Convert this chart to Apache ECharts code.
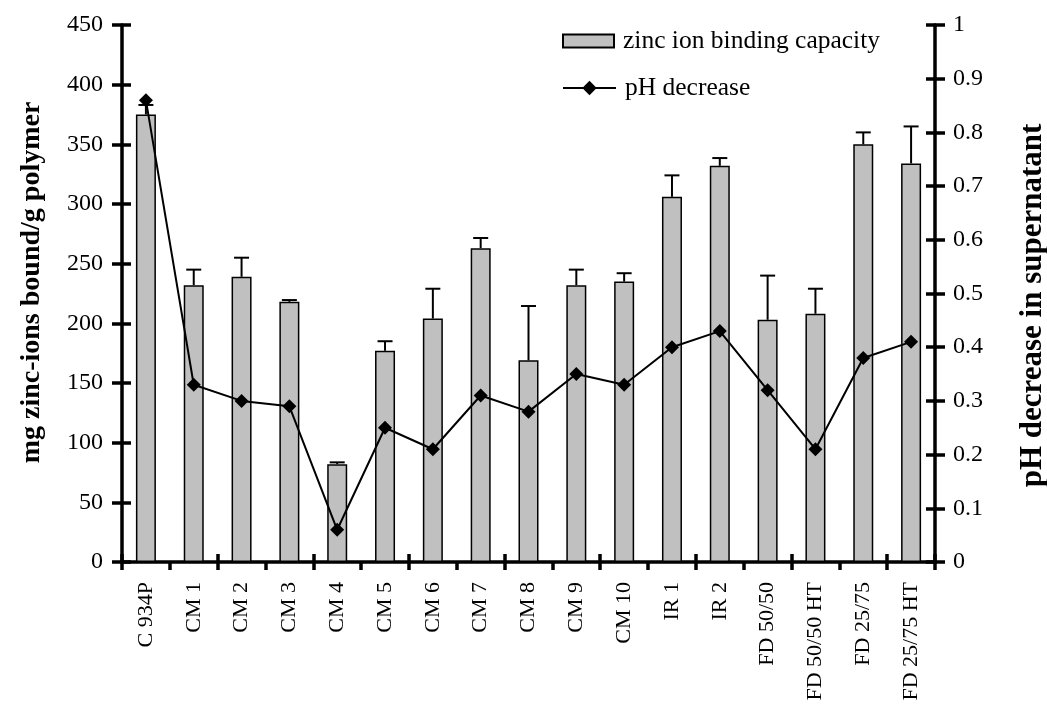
<!DOCTYPE html>
<html>
<head>
<meta charset="utf-8">
<script src="https://cdn.jsdelivr.net/npm/echarts@6/dist/echarts.min.js"></script>
<style>
  html, body { margin: 0; padding: 0; background: #fff; }
  #chart { width: 1047px; height: 708px; }
</style>
</head>
<body>
<div id="chart"></div>
<script>
// Samples along the x axis
const categories = ['C 934P', 'CM 1', 'CM 2', 'CM 3', 'CM 4', 'CM 5', 'CM 6', 'CM 7', 'CM 8', 'CM 9',
  'CM 10', 'IR 1', 'IR 2', 'FD 50/50', 'FD 50/50 HT', 'FD 25/75', 'FD 25/75 HT'];

// Zinc ion binding capacity (mg zinc-ions bound / g polymer)
const bindingCapacity = [375, 232, 239, 218, 82, 177, 204, 263, 169, 232, 235, 306, 332, 203, 208, 350, 334];

// Upper end of the error bar for each sample
const bindingUpper = [383, 245, 255, 219.5, 83.5, 185, 229, 271.5, 214.5, 245, 242, 324, 338.5, 240, 229, 360, 365];

// pH decrease in supernatant
const phDecrease = [0.86, 0.33, 0.30, 0.29, 0.06, 0.25, 0.21, 0.31, 0.28, 0.35, 0.33, 0.40, 0.43, 0.32, 0.21, 0.38, 0.41];

const FONT = '"Liberation Serif", "Times New Roman", serif';
const AX = 3.5;

const errorData = bindingCapacity.map((v, i) => [i, v, bindingUpper[i]]);

const chart = echarts.init(document.getElementById('chart'));

const axisLine = { show: true, lineStyle: { color: '#000', width: AX } };
const legendText = { fontFamily: FONT, fontSize: 25.5, color: '#000', padding: [0, 0, 0, 4] };

chart.setOption({
  backgroundColor: '#fff',
  animation: false,
  grid: { left: 122, right: 112, top: 25, bottom: 146, outerBoundsMode: 'none', containLabel: false },
  legend: [
    {
      left: 557,
      top: 23,
      itemWidth: 51,
      itemHeight: 13,
      data: [{ name: 'zinc ion binding capacity', icon: 'rect' }],
      textStyle: legendText
    },
    {
      left: 557,
      top: 70,
      itemWidth: 53,
      itemHeight: 18,
      data: ['pH decrease'],
      textStyle: legendText
    }
  ],
  xAxis: [
    {
      type: 'category',
      data: categories,
      position: 'bottom',
      boundaryGap: true,
      axisLine: axisLine,
      axisTick: { show: true, length: 8, lineStyle: { color: '#000', width: AX } },
      axisLabel: {
        rotate: 90, margin: 20, interval: 0,
        fontFamily: FONT, fontSize: 22, color: '#000'
      },
      splitLine: { show: false }
    },
    {
      // inner half of the crossing ticks
      type: 'category',
      data: categories,
      position: 'bottom',
      boundaryGap: true,
      axisLine: { show: false },
      axisTick: { show: true, inside: true, length: 8, lineStyle: { color: '#000', width: AX } },
      axisLabel: { show: false },
      splitLine: { show: false }
    }
  ],
  yAxis: [
    {
      type: 'value', position: 'left', min: 0, max: 450, interval: 50,
      name: 'mg zinc-ions bound/g polymer',
      nameLocation: 'middle', nameGap: 76, nameRotate: 90,
      nameTextStyle: { fontFamily: FONT, fontSize: 28, fontWeight: 'bold', color: '#000', padding: [0, 0, 0, 22] },
      axisLine: axisLine,
      axisTick: { show: true, length: 10, lineStyle: { color: '#000', width: AX } },
      axisLabel: { margin: 19, fontFamily: FONT, fontSize: 24, color: '#000' },
      splitLine: { show: false }
    },
    {
      type: 'value', position: 'right', min: 0, max: 1, interval: 0.1,
      name: 'pH decrease in supernatant',
      nameLocation: 'middle', nameGap: 82, nameRotate: 90,
      nameTextStyle: { fontFamily: FONT, fontSize: 31, fontWeight: 'bold', color: '#000', padding: [0, 24, 0, 0] },
      axisLine: axisLine,
      axisTick: { show: true, length: 10, lineStyle: { color: '#000', width: AX } },
      axisLabel: { margin: 18, fontFamily: FONT, fontSize: 24, color: '#000' },
      splitLine: { show: false }
    },
    {
      // inner half of the crossing ticks, left
      type: 'value', position: 'left', min: 0, max: 450, interval: 50,
      axisLine: { show: false },
      axisTick: { show: true, inside: true, length: 9, lineStyle: { color: '#000', width: AX } },
      axisLabel: { show: false },
      splitLine: { show: false }
    },
    {
      // inner half of the crossing ticks, right
      type: 'value', position: 'right', min: 0, max: 1, interval: 0.1,
      axisLine: { show: false },
      axisTick: { show: true, inside: true, length: 9, lineStyle: { color: '#000', width: AX } },
      axisLabel: { show: false },
      splitLine: { show: false }
    }
  ],
  series: [
    {
      name: 'zinc ion binding capacity',
      type: 'bar',
      xAxisIndex: 0,
      yAxisIndex: 0,
      data: bindingCapacity,
      barWidth: 20,
      z: 2,
      itemStyle: { color: '#c0c0c0', borderColor: '#000', borderWidth: 1.5 }
    },
    {
      name: 'error',
      type: 'custom',
      xAxisIndex: 0,
      yAxisIndex: 0,
      data: errorData,
      z: 3,
      encode: { x: 0, y: [1, 2] },
      renderItem: function (params, api) {
        const i = api.value(0);
        const base = api.coord([i, api.value(1)]);
        const top = api.coord([i, api.value(2)]);
        const half = 7.5;
        const style = { stroke: '#000', lineWidth: 2, fill: null };
        return {
          type: 'group',
          children: [
            { type: 'line', shape: { x1: base[0], y1: base[1], x2: top[0], y2: top[1] }, style: style },
            { type: 'line', shape: { x1: top[0] - half, y1: top[1], x2: top[0] + half, y2: top[1] }, style: style }
          ]
        };
      }
    },
    {
      name: 'pH decrease',
      type: 'line',
      xAxisIndex: 0,
      yAxisIndex: 1,
      data: phDecrease,
      z: 4,
      symbol: 'diamond',
      symbolSize: 14,
      lineStyle: { color: '#000', width: 2 },
      itemStyle: { color: '#000' }
    }
  ]
});
</script>
</body>
</html>
